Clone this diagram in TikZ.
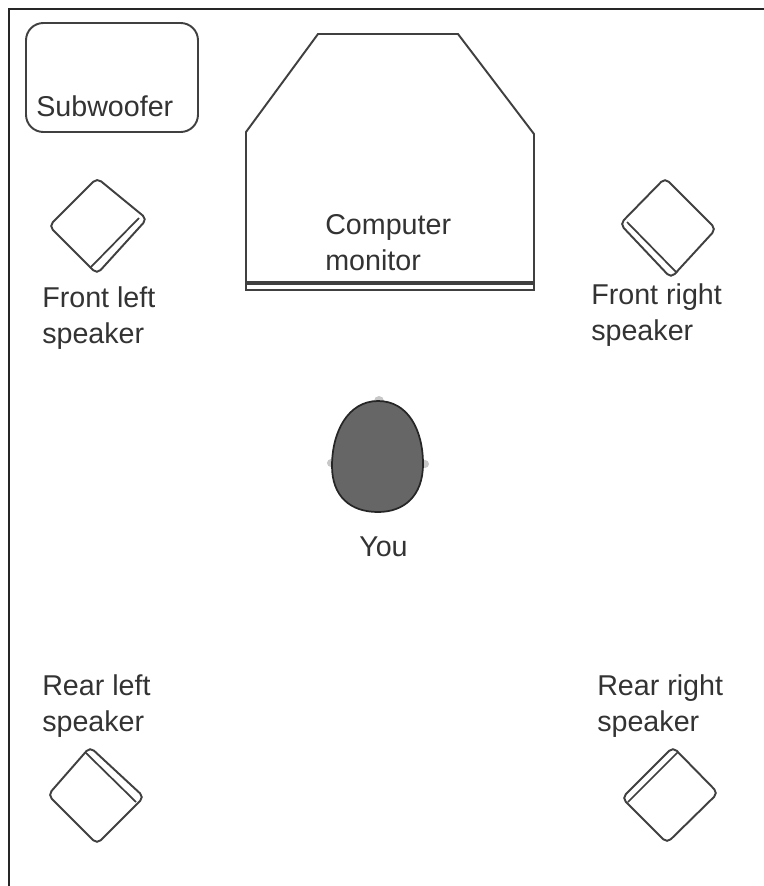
\documentclass[tikz,border=0pt]{standalone}
\usepackage{fontspec}
\setmainfont{Liberation Sans}
\tikzset{
  x=0.75pt,y=-0.75pt,
  shape line/.style={draw=black!75,line width=1.45pt,fill=white},
  inner line/.style={draw=black!75,line width=1.3pt},
  frame line/.style={draw=black!85,line width=1.6pt},
  label text/.style={inner sep=0pt,anchor=north west,align=left,text=black!80,
    font=\fontsize{21.5}{27}\selectfont},
}
\begin{document}
\begin{tikzpicture}
\useasboundingbox (0,0) rectangle (764,886);
% outer frame
\draw[frame line] (9,886) -- (9,9) -- (764,9);
% subwoofer
\draw[shape line,rounded corners=13pt] (26,23) rectangle (198,132);
\node[label text] (sub) at (36,95) {Subwoofer};
% monitor
\draw[shape line] (246,132) -- (318,34) -- (458,34) -- (534,134) -- (534,290) -- (246,290) -- cycle;
\draw[shape line,line width=2.4pt] (246,283) -- (534,283);
\node[label text] (mon) at (325,214) {Computer\\monitor};
% speakers
\draw[shape line,rounded corners=4pt] (97,178) -- (147,219) -- (97,274) -- (49,226) -- cycle;
\draw[inner line] (139,218) -- (90,268);
\draw[shape line,rounded corners=4pt] (665,178) -- (716,229) -- (671,278) -- (620,224) -- cycle;
\draw[inner line] (627,222) -- (677,273);
\draw[shape line,rounded corners=4pt] (90,747) -- (144,797) -- (97,844) -- (48,795) -- cycle;
\draw[inner line] (85,752) -- (136,802);
\draw[shape line,rounded corners=4pt] (673,747) -- (718,793) -- (667,843) -- (622,798) -- cycle;
\draw[inner line] (678,752) -- (628,802);
\node[label text] (fl) at (42,286) {Front left\\speaker};
\node[label text] (fr) at (591,283) {Front right\\speaker};
\node[label text] (rl) at (42,674) {Rear left\\speaker};
\node[label text] (rr) at (597,674) {Rear right\\speaker};
% head
\fill[black!22] (379,401) circle (5);
\fill[black!22] (331,463) circle (4);
\fill[black!22] (425,464) circle (4);
\draw[draw=black!85,line width=1.3pt,fill=black!60]
  (378,401) .. controls (408,401) and (423,430) .. (423,464)
  .. controls (423,496) and (404,512) .. (378,512)
  .. controls (350,512) and (332,496) .. (332,466)
  .. controls (332,432) and (348,401) .. (378,401) -- cycle;
\node[label text] (you) at (359,537) {You};
\end{tikzpicture}
\end{document}
